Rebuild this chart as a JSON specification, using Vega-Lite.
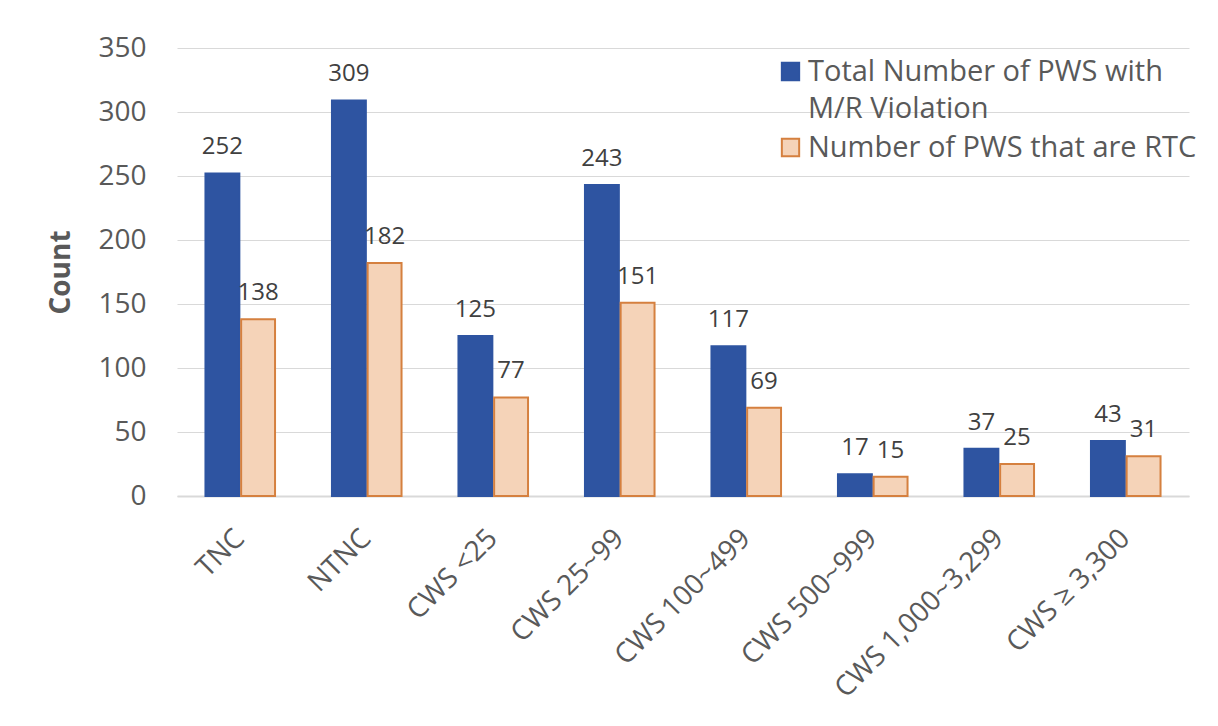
{
  "$schema": "https://vega.github.io/schema/vega-lite/v6.json",
  "autosize": {"type": "none"},
  "width": 1012,
  "height": 448,
  "padding": {"left": 177, "top": 48, "right": 29, "bottom": 230},
  "background": "white",
  "config": {
    "font": "Open Sans",
    "view": {"stroke": null}
  },
  "data": {
    "values": [
      {"category": "TNC", "series": "Total Number of PWS with M/R Violation", "count": 252},
      {"category": "TNC", "series": "Number of PWS that are RTC", "count": 138},
      {"category": "NTNC", "series": "Total Number of PWS with M/R Violation", "count": 309},
      {"category": "NTNC", "series": "Number of PWS that are RTC", "count": 182},
      {"category": "CWS <25", "series": "Total Number of PWS with M/R Violation", "count": 125},
      {"category": "CWS <25", "series": "Number of PWS that are RTC", "count": 77},
      {"category": "CWS 25~99", "series": "Total Number of PWS with M/R Violation", "count": 243},
      {"category": "CWS 25~99", "series": "Number of PWS that are RTC", "count": 151},
      {"category": "CWS 100~499", "series": "Total Number of PWS with M/R Violation", "count": 117},
      {"category": "CWS 100~499", "series": "Number of PWS that are RTC", "count": 69},
      {"category": "CWS 500~999", "series": "Total Number of PWS with M/R Violation", "count": 17},
      {"category": "CWS 500~999", "series": "Number of PWS that are RTC", "count": 15},
      {"category": "CWS 1,000~3,299", "series": "Total Number of PWS with M/R Violation", "count": 37},
      {"category": "CWS 1,000~3,299", "series": "Number of PWS that are RTC", "count": 25},
      {"category": "CWS ≥ 3,300", "series": "Total Number of PWS with M/R Violation", "count": 43},
      {"category": "CWS ≥ 3,300", "series": "Number of PWS that are RTC", "count": 31}
    ]
  },
  "encoding": {
    "x": {
      "field": "category",
      "type": "nominal",
      "sort": null,
      "scale": {"paddingInner": 0.45, "paddingOuter": 0.225},
      "axis": {
        "title": null,
        "labelAngle": -45,
        "labelAlign": "right",
        "labelBaseline": "middle",
        "labelFontSize": 28,
        "labelColor": "#595959",
        "labelPadding": 38,
        "ticks": false,
        "domainColor": "#d9d9d9",
        "domainWidth": 2,
        "labelLimit": 400
      }
    },
    "xOffset": {
      "field": "series",
      "type": "nominal",
      "sort": ["Total Number of PWS with M/R Violation", "Number of PWS that are RTC"],
      "scale": {"paddingInner": 0.05}
    },
    "y": {
      "field": "count",
      "type": "quantitative",
      "scale": {"domain": [0, 350]},
      "axis": {
        "title": "Count",
        "titleFontSize": 28,
        "titleFontWeight": "bold",
        "titleColor": "#595959",
        "titlePadding": 22,
        "values": [0, 50, 100, 150, 200, 250, 300, 350],
        "labelFontSize": 28,
        "labelColor": "#595959",
        "labelPadding": 31,
        "ticks": false,
        "domain": false,
        "gridColor": "#d9d9d9",
        "gridWidth": 1
      }
    }
  },
  "layer": [
    {
      "mark": {"type": "bar", "strokeWidth": 2},
      "encoding": {
        "fill": {
          "field": "series",
          "type": "nominal",
          "scale": {
            "domain": ["Total Number of PWS with M/R Violation", "Number of PWS that are RTC"],
            "range": ["#2E54A1", "#F5D3B8"]
          },
          "legend": {
            "title": null,
            "orient": "none",
            "legendX": 599,
            "legendY": 9,
            "symbolType": "square",
            "symbolSize": 300,
            "symbolStrokeWidth": 2,
            "labelFontSize": 29,
            "labelColor": "#595959",
            "labelLimit": 600,
            "labelOffset": 3,
            "rowPadding": 9,
            "labelExpr": "datum.label == 'Total Number of PWS with M/R Violation' ? ['Total Number of PWS with', 'M/R Violation'] : datum.label",
            "encode": {"labels": {"update": {"lineHeight": {"value": 37}}}}
          }
        },
        "stroke": {
          "field": "series",
          "type": "nominal",
          "scale": {
            "domain": ["Total Number of PWS with M/R Violation", "Number of PWS that are RTC"],
            "range": ["#2E54A1", "#D5803F"]
          },
          "legend": null
        }
      }
    },
    {
      "mark": {"type": "text", "baseline": "alphabetic", "dy": -19, "fontSize": 24, "color": "#404040"},
      "encoding": {
        "text": {"field": "count", "type": "quantitative"}
      }
    }
  ]
}
